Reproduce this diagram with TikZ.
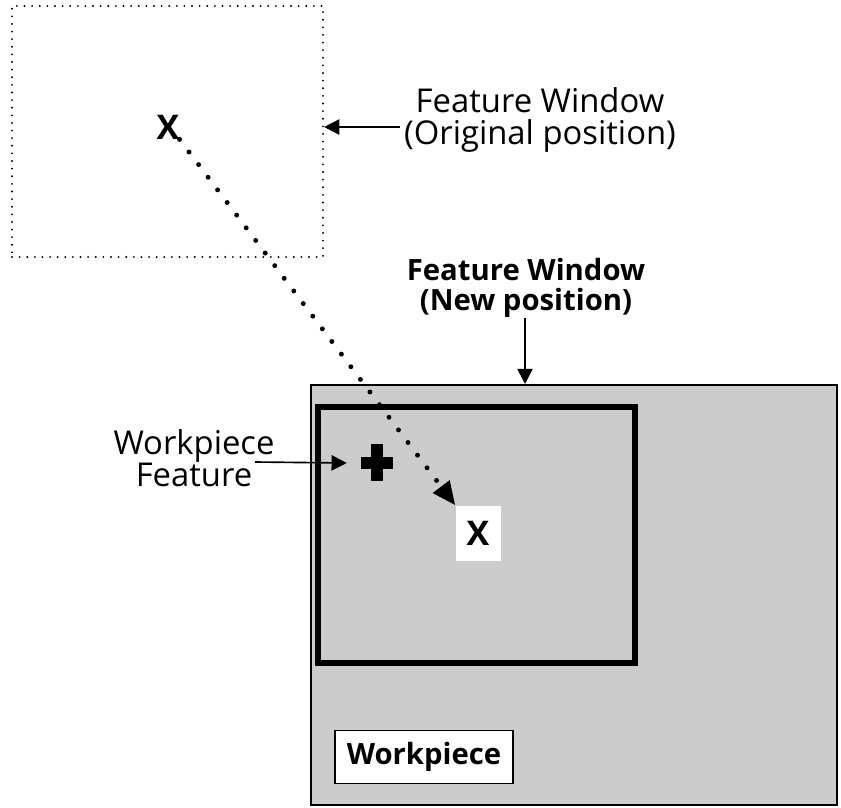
\documentclass[tikz,border=0pt]{standalone}
\usepackage{fontspec}
\setmainfont{Open Sans}
\usepackage{xcolor}
\usepackage{tikz}
\usetikzlibrary{arrows.meta, positioning, calc}
\definecolor{WorkGray}{HTML}{CCCCCC}

\begin{document}
\begin{tikzpicture}[x=0.03cm, y=-0.03cm,
  labeltext/.style={align=center, font=\fontsize{28}{27}\selectfont, inner sep=0pt},
  boldtext/.style={align=center, font=\fontsize{25}{26}\selectfont\bfseries, inner sep=0pt},
  marktext/.style={font=\fontsize{29}{30}\selectfont\bfseries, inner sep=0pt},
  windowbox/.style={draw, inner sep=0pt, minimum width=9.4cm, minimum height=7.6cm},
  arrowstyle/.style={-{Triangle[length=13pt, width=13pt]}, line width=1.4pt},
  dotline/.style={line width=4.2pt, line cap=round, dash pattern=on 0pt off 13.5pt, -{Triangle[length=20pt, width=17pt]}}
  ]
  \useasboundingbox (0,0) rectangle (841,807);
  % Original window
  \node[windowbox, line width=1.8pt, line cap=round, dash pattern=on 0pt off 6.5pt, minimum width=9.33cm, minimum height=7.53cm] (oldwin) at (167.5,131.5) {};
  \node[marktext] (oldx) at (168,127) {X};
  % Workpiece
  \node[draw, fill=WorkGray, line width=1.7pt, inner sep=0pt, minimum width=15.78cm, minimum height=12.6cm] (work) at (574,595) {};
  % New window
  \node[windowbox, line width=4.3pt, minimum width=9.51cm, minimum height=7.68cm] (newwin) at (476.5,535) {};
  \node[marktext, fill=white, minimum width=1.35cm, minimum height=1.65cm] (newx) at (478,533) {X};
  % Workpiece label
  \node[boldtext, draw, fill=white, line width=1.5pt, minimum width=5.34cm, minimum height=1.59cm] (worklabel) at (424,757) {Workpiece};
  % Workpiece feature
  \node[inner sep=0pt, minimum width=1.8cm, minimum height=1.1cm] (feat) at (377,463) {};
  \fill ($(feat)+(-16,-6)$) rectangle ++(32,12);
  \fill ($(feat)+(-6,-19)$) rectangle ++(12,37);
  % Labels
  \node[labeltext] (oldlabel) at (540,120) {Feature Window\\(Original position)};
  \node[boldtext] (newlabel) at (526,288) {Feature Window\\(New position)};
  \node[labeltext] (featlabel) at (194,458) {Workpiece\\Feature};
  \coordinate (oldtail) at (400,127);
  \coordinate (newtail) at (525,318);
  \coordinate (feattail) at (255,462);
  % Arrows
  \draw[arrowstyle] (oldtail) -- (oldtail -| oldwin.east);
  \draw[arrowstyle] (newtail) -- (newtail |- work.north);
  \draw[arrowstyle] (feattail) -- (feat.west);
  \draw[dotline] (oldx.south east) -- (newx.north west);
\end{tikzpicture}
\end{document}
